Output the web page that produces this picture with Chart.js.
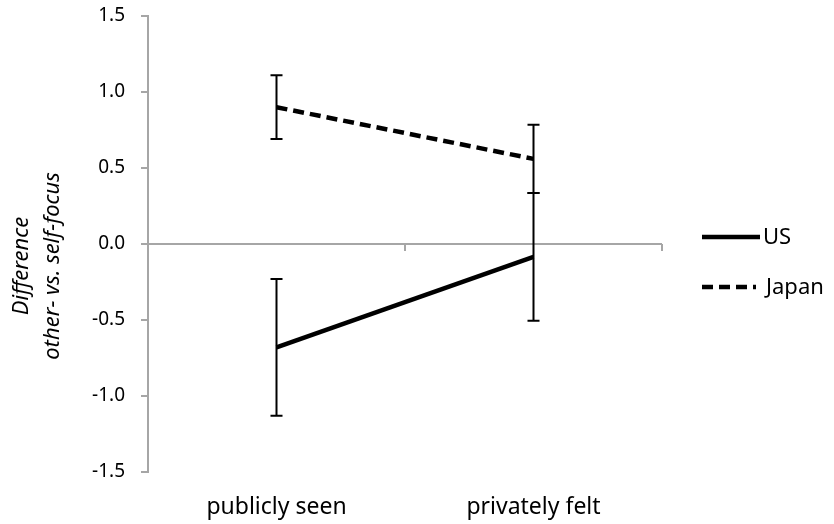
<!DOCTYPE html>
<html>
<head>
<meta charset="utf-8">
<script src="https://cdn.jsdelivr.net/npm/chart.js@4.4.1/dist/chart.umd.min.js"></script>
<style>
  html, body { margin: 0; padding: 0; background: #fff; }
  #wrap { width: 834px; height: 524px; position: relative; }
</style>
</head>
<body>
<div id="wrap"><canvas id="myChart" width="834" height="524"></canvas></div>
<script>
const categories = ['publicly seen', 'privately felt'];
const usValues = [-0.68, -0.085];
const usErr = [0.45, 0.42];
const japanValues = [0.90, 0.56];
const japanErr = [0.21, 0.225];
const yTicks = [-1.5, -1.0, -0.5, 0.0, 0.5, 1.0, 1.5];

const axisGrey = '#a6a6a6';
const fontFamily = '"Noto Sans", "Open Sans", sans-serif';

// error bars, zero line and the little legend are drawn here
const extras = {
    id: 'extras',
    beforeDatasetsDraw(chart) {
        const ctx = chart.ctx;
        const y = chart.scales.y;
        const y0 = y.getPixelForValue(0);
        ctx.save();
        ctx.strokeStyle = axisGrey;
        ctx.lineWidth = 2;
        ctx.beginPath();
        ctx.moveTo(chart.chartArea.left, y0);
        ctx.lineTo(chart.chartArea.right, y0);
        // category boundary ticks
        const step = (chart.chartArea.right - chart.chartArea.left) / categories.length;
        for (let i = 1; i <= categories.length; i++) {
            const tx = Math.round(chart.chartArea.left + step * i);
            ctx.moveTo(tx, y0);
            ctx.lineTo(tx, y0 + 7);
        }
        ctx.stroke();
        ctx.restore();
    },
    afterDatasetsDraw(chart) {
        const ctx = chart.ctx;
        const x = chart.scales.x, y = chart.scales.y;
        const errs = [usErr, japanErr];
        ctx.save();
        ctx.strokeStyle = '#000';
        ctx.lineWidth = 2;
        chart.data.datasets.forEach((ds, di) => {
            ds.data.forEach((v, i) => {
                const px = x.getPixelForValue(i);
                const top = y.getPixelForValue(v + errs[di][i]);
                const bot = y.getPixelForValue(v - errs[di][i]);
                ctx.beginPath();
                ctx.moveTo(px, top); ctx.lineTo(px, bot);
                ctx.moveTo(px - 6, top); ctx.lineTo(px + 6, top);
                ctx.moveTo(px - 6, bot); ctx.lineTo(px + 6, bot);
                ctx.stroke();
            });
        });

        // legend
        const lx = 702, ly = [237, 287];
        ctx.font = '22px ' + fontFamily;
        ctx.fillStyle = '#000';
        ctx.textBaseline = 'middle';
        chart.data.datasets.forEach((ds, di) => {
            ctx.lineWidth = 4.5;
            ctx.setLineDash(ds.borderDash || []);
            ctx.beginPath();
            ctx.moveTo(lx, ly[di]);
            ctx.lineTo(lx + (di === 0 ? 58 : 54), ly[di]);
            ctx.stroke();
            ctx.setLineDash([]);
            ctx.fillText(ds.label, lx + (di === 0 ? 61 : 64), ly[di] + 1);
        });

        // y axis title, two italic lines
        ctx.font = 'italic 22px ' + fontFamily;
        ctx.textAlign = 'center';
        ctx.translate(37, 266);
        ctx.rotate(-Math.PI / 2);
        ctx.fillText('Difference', 0, -15);
        ctx.fillText('other- vs. self-focus', 0, 16);
        ctx.restore();
    }
};

const ctx = document.getElementById('myChart').getContext('2d');
const myChart = new Chart(ctx, {
    type: 'line',
    data: {
        labels: categories,
        datasets: [{
            label: 'US',
            data: usValues,
            borderColor: '#000',
            borderWidth: 4.5,
            pointRadius: 0,
            fill: false
        }, {
            label: 'Japan',
            data: japanValues,
            borderColor: '#000',
            borderWidth: 4.5,
            borderDash: [11, 6],
            pointRadius: 0,
            fill: false
        }]
    },
    options: {
        responsive: false,
        animation: false,
        layout: {
            padding: { top: 16, right: 172, bottom: 0, left: 0 }
        },
        plugins: {
            legend: { display: false },
            tooltip: { enabled: false }
        },
        scales: {
            x: {
                offset: true,
                grid: { display: false },
                border: { display: false },
                ticks: {
                    color: '#000',
                    font: { family: fontFamily, size: 23 },
                    padding: 14
                },
                afterFit(scale) { scale.height = 52; }
            },
            y: {
                min: -1.5,
                max: 1.5,
                afterBuildTicks(scale) {
                    scale.ticks = yTicks.map(v => ({ value: v }));
                },
                grid: {
                    drawOnChartArea: false,
                    drawTicks: true,
                    tickLength: 7,
                    color: axisGrey,
                    lineWidth: 2
                },
                border: { color: axisGrey, width: 2 },
                ticks: {
                    color: '#000',
                    font: { family: fontFamily, size: 19 },
                    padding: 16,
                    callback: v => v.toFixed(1)
                },
                afterFit(scale) {
                    scale.width = 148;
                    scale.paddingTop = 0;
                    scale.paddingBottom = 0;
                }
            }
        }
    },
    plugins: [extras]
});
</script>
</body>
</html>
